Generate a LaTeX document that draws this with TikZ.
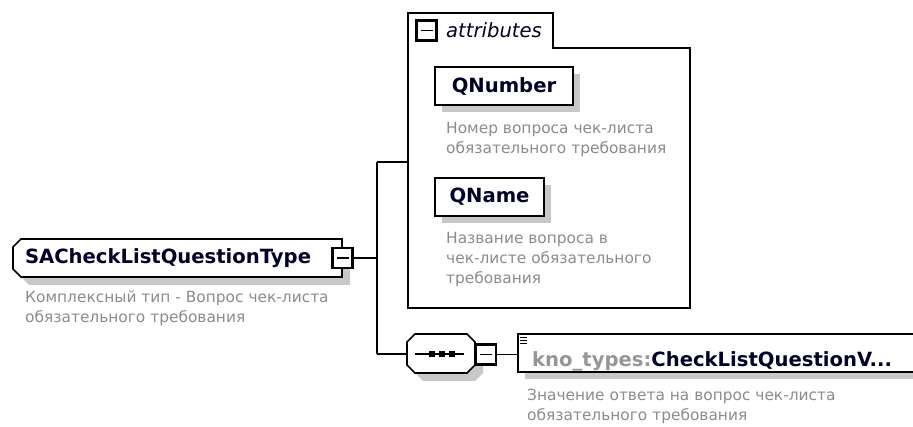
\documentclass[tikz,border=0pt]{standalone}
\usepackage{fontspec}
\setmainfont{DejaVu Sans}
\usetikzlibrary{shadows}
\definecolor{descgray}{RGB}{140,140,140}
\definecolor{shadowgray}{RGB}{200,200,200}
\definecolor{navy}{RGB}{0,0,40}
\definecolor{typegray}{RGB}{150,150,150}
\begin{document}
\begin{tikzpicture}[x=1pt,y=-1pt,
  lbl/.style={font=\bfseries\fontsize{19.6}{22}\selectfont, text=navy},
  desc/.style={font=\fontsize{15.4}{20}\selectfont, text=descgray, align=left, anchor=north west, inner sep=0pt},
  elbox/.style={draw, line width=1.6pt, fill=white, inner sep=0pt, minimum height=38pt, lbl,
    drop shadow={shadow xshift=7pt, shadow yshift=-7pt, fill=shadowgray, opacity=1}},
  expander/.style={draw, line width=2.4pt, fill=white, minimum size=20pt, inner sep=0pt,
    path picture={\draw[line width=1.3pt] ([xshift=4pt]path picture bounding box.west) -- ([xshift=-4pt]path picture bounding box.east);}},
  conn/.style={line width=1.6pt},
  frame/.style={line width=1.6pt},
]
\clip (0,0) rectangle (913,427);
\fill[white] (0,0) rectangle (913,427);

% main complex type
\fill[shadowgray, shift={(8,8)}] (21,239) -- (342,239) -- (342,277) -- (21,277) -- (13,269) -- (13,247) -- cycle;
\draw[frame, fill=white] (21,239) -- (342,239) -- (342,277) -- (21,277) -- (13,269) -- (13,247) -- cycle;
\node[lbl, minimum width=329pt, minimum height=38pt, inner sep=0pt, text width=305pt, align=left] (main) at (177.5,258) {SACheckListQuestionType};
\node[expander] (mainexp) at (342.5,258) {};
\node[desc] (maindesc) at (25,291) {Комплексный тип - Вопрос чек-листа\\обязательного требования};

% junctions
\coordinate (j1) at (377,258);
\coordinate (jtop) at (377,162);
\coordinate (jbot) at (377,354);

% attributes group
\draw[frame] (408,13) -- (553,13) -- (553,48) -- (690,48) -- (690,308) -- (408,308) -- cycle;
\node[minimum width=282pt, minimum height=295pt, inner sep=0pt] (attr) at (549,160.5) {};
\node[expander] (attrexp) at (426.5,30.5) {};
\node[font=\itshape\fontsize{19.6}{22}\selectfont, text=navy, anchor=west, inner sep=0pt] (attrlbl) at (446,30) {attributes};

\node[elbox, minimum width=138pt] (qnum) at (504,86) {QNumber};
\node[desc] (qnumdesc) at (446,122) {Номер вопроса чек-листа\\обязательного требования};
\node[elbox, minimum width=109pt] (qname) at (489.5,197) {QName};
\node[desc] (qnamedesc) at (446,232) {Название вопроса в\\чек-листе обязательного\\требования};

% sequence compositor
\fill[shadowgray, shift={(8,8)}] (415,334) -- (467,334) -- (475,342) -- (475,365) -- (467,373) -- (415,373) -- (407,365) -- (407,342) -- cycle;
\draw[frame, fill=white] (415,334) -- (467,334) -- (475,342) -- (475,365) -- (467,373) -- (415,373) -- (407,365) -- (407,342) -- cycle;
\node[minimum width=68pt, minimum height=39pt, inner sep=0pt] (seq) at (441,353.5) {};
\draw[line width=1.6pt] (415,354) -- (464,354);
\foreach \xx in {432,442,452} {\fill (\xx-2.7,351.3) rectangle (\xx+2.7,356.7);}
\node[expander] (seqexp) at (486,354.5) {};

% element
\node[elbox, minimum width=400pt, anchor=west] (elem) at (517,353) {};
\draw[line width=1pt] (520,338) -- (527,338) (520,341) -- (527,341) (520,344) -- (527,344);
\node[lbl, anchor=base west, inner sep=0pt] (elemtxt) at (532,367) {\textcolor{typegray}{kno\_types:}CheckListQuestionV...};
\node[desc] (elemdesc) at (527,389) {Значение ответа на вопрос чек-листа\\обязательного требования};

% connectors
\draw[conn] (mainexp.east) -- (j1);
\draw[conn] (jtop) -- (jbot);
\draw[conn] (jtop) -- (jtop -| attr.west);
\draw[conn] (jbot) -- (jbot -| seq.west);
\draw[conn] (seqexp.east) -- (seqexp.east -| elem.west);
\end{tikzpicture}
\end{document}
